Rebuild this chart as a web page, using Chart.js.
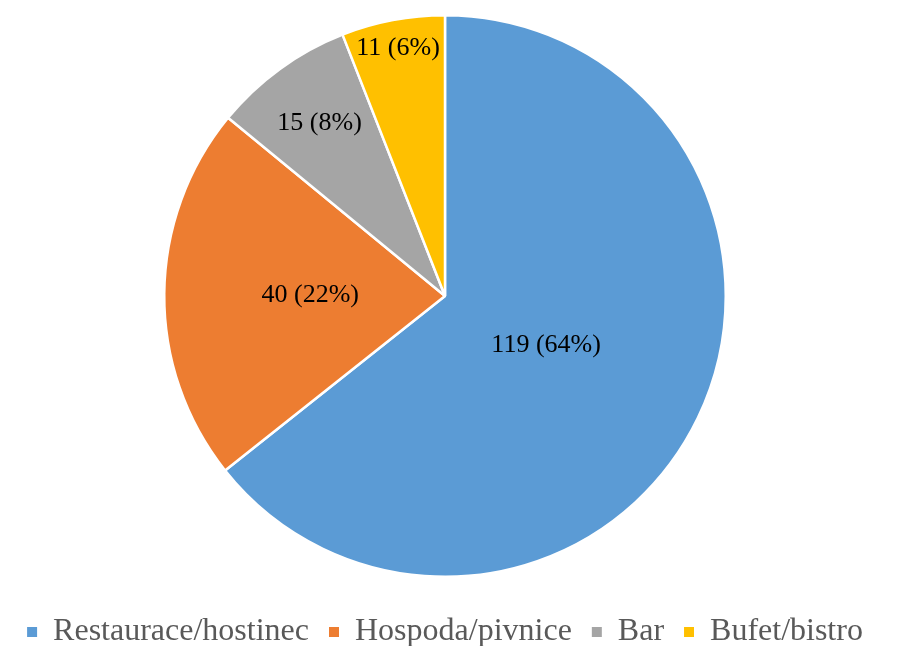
<!DOCTYPE html>
<html>
<head>
<meta charset="utf-8">
<script src="https://cdn.jsdelivr.net/npm/chart.js@4"></script>
<style>
  html, body { margin: 0; padding: 0; background: #fff; }
  #wrap { width: 898px; height: 646px; }
</style>
</head>
<body>
<div id="wrap"><canvas id="pieChart"></canvas></div>
<script>
// data
const categories = ['Restaurace/hostinec', 'Hospoda/pivnice', 'Bar', 'Bufet/bistro'];
const counts = [119, 40, 15, 11];
const percents = [64, 22, 8, 6];
const colors = ['#5B9BD5', '#ED7D31', '#A5A5A5', '#FFC000'];

// labels inside slices, like Excel "value (percent)"
const sliceLabels = {
    id: 'sliceLabels',
    afterDatasetsDraw(chart, args, opts) {
        const ctx = chart.ctx;
        const meta = chart.getDatasetMeta(0);
        ctx.save();
        ctx.font = opts.font;
        ctx.fillStyle = opts.color;
        ctx.textAlign = 'center';
        ctx.textBaseline = 'middle';
        meta.data.forEach((arc, i) => {
            const p = arc.getProps(['x', 'y', 'startAngle', 'endAngle', 'outerRadius'], true);
            const mid = (p.startAngle + p.endAngle) / 2;
            const r = p.outerRadius * opts.radius[i];
            ctx.fillText(`${counts[i]} (${percents[i]}%)`, p.x + Math.cos(mid) * r, p.y + Math.sin(mid) * r);
        });
        ctx.restore();
    }
};

const defaultLabels = Chart.overrides.pie.plugins.legend.labels.generateLabels;

new Chart(document.getElementById('pieChart'), {
    type: 'pie',
    data: {
        labels: categories,
        datasets: [{
            data: counts,
            backgroundColor: colors,
            borderColor: '#ffffff',
            borderWidth: 2.5
        }]
    },
    options: {
        responsive: true,
        maintainAspectRatio: false,
        animation: false,
        layout: { padding: { top: 14, bottom: -12, right: 8, left: 0 } },
        plugins: {
            tooltip: { enabled: false },
            legend: {
                position: 'bottom',
                // empty title only used as a spacer above the legend row
                title: { display: true, text: '', font: { size: 10, lineHeight: 1 }, padding: { top: 8, bottom: 0 } },
                labels: {
                    boxWidth: 10,
                    boxHeight: 10,
                    padding: 20,
                    color: '#595959',
                    font: { family: '"Liberation Serif", "Times New Roman", serif', size: 32 },
                    generateLabels(chart) {
                        return defaultLabels(chart).map(l => ({ ...l, lineWidth: 0 }));
                    }
                }
            },
            sliceLabels: {
                font: '26px "Liberation Serif", "Times New Roman", serif',
                color: '#000000',
                radius: [0.4, 0.48, 0.76, 0.9]
            }
        }
    },
    plugins: [sliceLabels]
});
</script>
</body>
</html>
